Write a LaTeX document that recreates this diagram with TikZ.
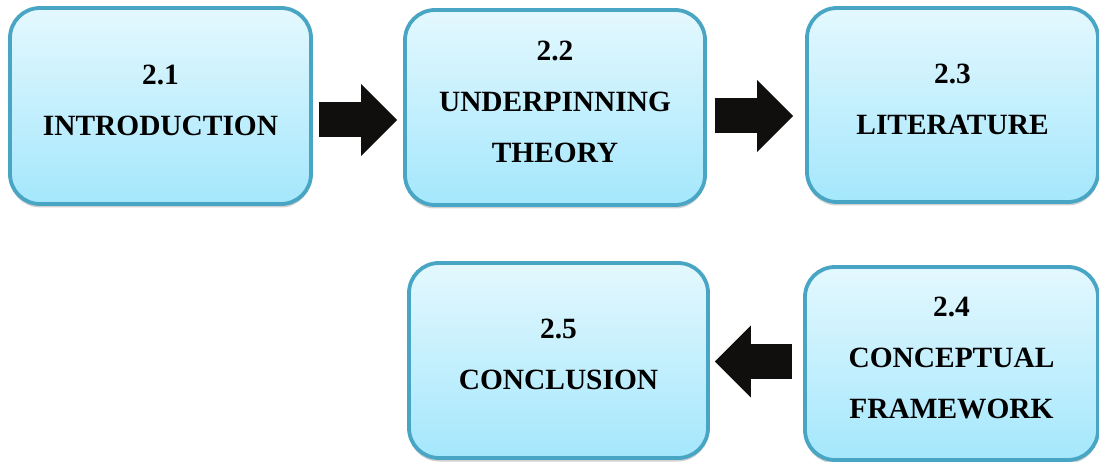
\documentclass[tikz,border=0pt]{standalone}
\usepackage{fontspec}
\setmainfont{Liberation Serif}
\usetikzlibrary{arrows.meta,shadows}
\definecolor{boxedge}{RGB}{72,165,195}
\definecolor{boxtop}{RGB}{228,248,254}
\definecolor{boxbottom}{RGB}{164,231,252}
\definecolor{arrowfill}{RGB}{17,14,14}
\begin{document}
\begin{tikzpicture}[x=1pt,y=-1pt,
  stage/.style={draw=boxedge, line width=3.8pt, rounded corners=30pt,
    top color=boxtop, bottom color=boxbottom,
    drop shadow={shadow xshift=0pt, shadow yshift=-3.5pt, opacity=0.3, fill=black!60},
    align=center, inner sep=0pt, text=black,
    font=\bfseries\fontsize{29.4}{51}\selectfont,
    execute at end node={\rule[-12pt]{0pt}{0pt}}},
  flow/.style={draw=arrowfill, line width=35pt,
    -{Triangle[length=36pt,width=72pt,line width=0pt]}}]
\useasboundingbox (0,0) rectangle (1099,462);

% chapter stages
\node[stage, minimum width=301pt, minimum height=196pt] (b21) at (160.5,106)
  {2.1\\INTRODUCTION};
\node[stage, minimum width=300pt, minimum height=195pt] (b22) at (555,107.5)
  {2.2\\UNDERPINNING\\THEORY};
\node[stage, minimum width=291pt, minimum height=194pt] (b23) at (952.5,105)
  {2.3\\LITERATURE};
\node[stage, minimum width=293pt, minimum height=193pt] (b24) at (951.5,363.5)
  {2.4\\CONCEPTUAL\\FRAMEWORK};
\node[stage, minimum width=299pt, minimum height=195pt] (b25) at (558.5,360.5)
  {2.5\\CONCLUSION};

% block arrows between the stages
\draw[flow, shorten <=6pt, shorten >=6pt]
  ([yshift=-14pt]b21.east) -- ([yshift=-14pt]b21.east -| b22.west);
\draw[flow, shorten <=8pt, shorten >=12pt]
  ([yshift=-8.5pt]b22.east) -- ([yshift=-8.5pt]b22.east -| b23.west);
\draw[flow, shorten <=11pt, shorten >=5pt]
  ([yshift=2pt]b24.west) -- ([yshift=2pt]b24.west -| b25.east);
\end{tikzpicture}
\end{document}
